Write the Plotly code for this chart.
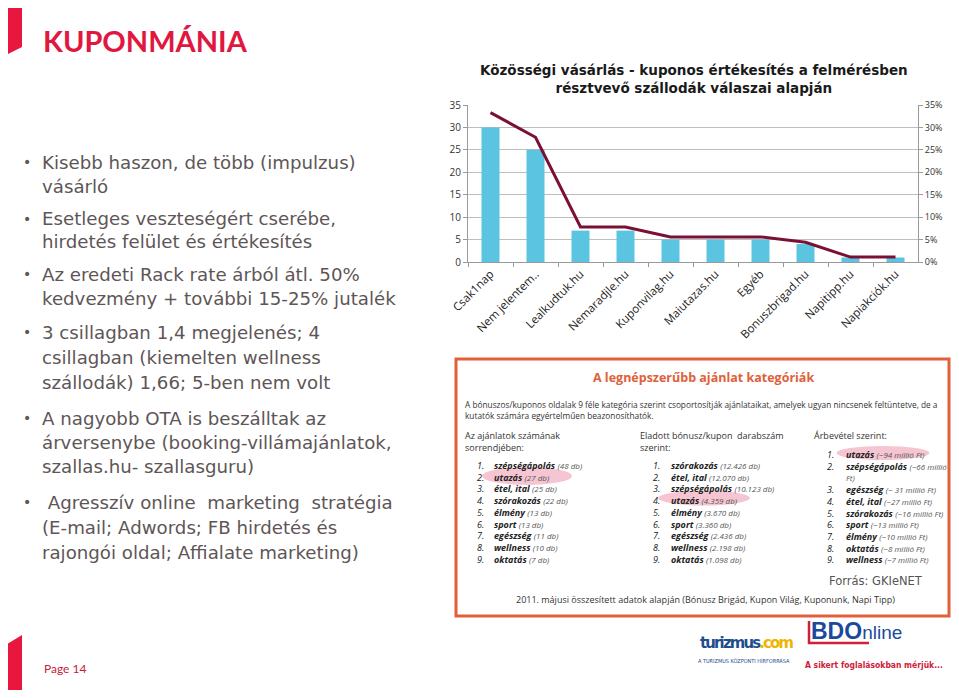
import plotly.graph_objects as go

# page has an 8px body margin on every side; keep the figure inside the 959x698 window
OFF = 8
W, H = 959 - 2 * OFF, 698 - 2 * OFF

categories = ["Csak1nap", "Nem jelentem..", "Lealkudtuk.hu", "Nemaradjle.hu", "Kuponvilag.hu",
              "Maiutazas.hu", "Egyéb", "Bonuszbrigad.hu", "Napitipp.hu", "Napiakciók.hu"]
counts = [30, 25, 7, 7, 5, 5, 5, 4, 1, 1]
shares = [0.333, 0.278, 0.078, 0.078, 0.056, 0.056, 0.056, 0.044, 0.011, 0.011]
left_ticks = [0, 5, 10, 15, 20, 25, 30, 35]
right_ticks = [0, 0.05, 0.10, 0.15, 0.20, 0.25, 0.30, 0.35]

bullets = [
    ["Kisebb haszon, de több (impulzus)", "vásárló"],
    ["Esetleges veszteségért cserébe,", "hirdetés felület és értékesítés"],
    ["Az eredeti Rack rate árból átl. 50%", "kedvezmény + további 15-25% jutalék"],
    ["3 csillagban 1,4 megjelenés; 4", "csillagban (kiemelten wellness", "szállodák) 1,66; 5-ben nem volt"],
    ["A nagyobb OTA is beszálltak az", "árversenybe (booking-villámajánlatok,", "szallas.hu- szallasguru)"],
    [" Agresszív online  marketing  stratégia", "(E-mail; Adwords; FB hirdetés és", "rajongói oldal; Affialate marketing)"],
]
bullet_line_y = [[162, 186], [219, 242], [274, 298], [332, 357, 383], [418, 442, 467], [502, 527, 552]]

col1 = [("szépségápolás", "(48 db)"), ("utazás", "(27 db)"), ("étel, ital", "(25 db)"),
        ("szórakozás", "(22 db)"), ("élmény", "(13 db)"), ("sport", "(13 db)"),
        ("egészség", "(11 db)"), ("wellness", "(10 db)"), ("oktatás", "(7 db)")]
col2 = [("szórakozás", "(12.426 db)"), ("étel, ital", "(12.070 db)"), ("szépségápolás", "(10.123 db)"),
        ("utazás", "(4.359 db)"), ("élmény", "(3.670 db)"), ("sport", "(3.360 db)"),
        ("egészség", "(2.436 db)"), ("wellness", "(2.198 db)"), ("oktatás", "(1.098 db)")]
col3 = [("utazás", "(~94 millió Ft)"), ("szépségápolás", "(~66 millió"), ("egészség", "(~ 31 millió Ft)"),
        ("étel, ital", "(~27 millió Ft)"), ("szórakozás", "(~16 millió Ft)"), ("sport", "(~13 millió Ft)"),
        ("élmény", "(~10 millió Ft)"), ("oktatás", "(~8 millió Ft)"), ("wellness", "(~7 millió Ft)")]


def px(x):
    return (x - OFF) / W


def py(y):
    return 1 - (y - OFF) / H


fig = go.Figure()
fig.add_trace(go.Bar(x=categories, y=counts, marker=dict(color="#5BC4E0", line=dict(width=0)),
                     width=0.4, yaxis="y", showlegend=False))
fig.add_trace(go.Scatter(x=categories, y=shares, mode="lines", line=dict(color="#7A1035", width=3),
                         yaxis="y2", showlegend=False))

ann = []
shapes = []


def text(x, y, t, font, xanchor="left", yanchor="middle", align="left"):
    ann.append(dict(x=px(x), y=py(y), xref="paper", yref="paper", showarrow=False, text=t, font=font,
                    xanchor=xanchor, yanchor=yanchor, align=align, borderpad=0))


# Chart title
text(694, 79, "<b>Közösségi vásárlás - kuponos értékesítés a felmérésben<br>résztvevő szállodák válaszai alapján</b>",
     dict(family="DejaVu Sans", size=13.5, color="#1a1a1a"), xanchor="center", align="center")

# Slide title and decorations
text(42, 41, "<b>KUPONMÁNIA</b>", dict(family="Lato", size=29, color="#E0173F"))
shapes.append(dict(type="path", xref="paper", yref="paper",
                   path=f"M {px(4)} {py(0)} L {px(22)} {py(0)} L {px(22)} {py(47)} L {px(4)} {py(56)} Z",
                   fillcolor="#E8173F", line=dict(width=0)))
shapes.append(dict(type="path", xref="paper", yref="paper",
                   path=f"M {px(4)} {py(646)} L {px(22)} {py(635)} L {px(22)} {py(698)} L {px(4)} {py(698)} Z",
                   fillcolor="#E8173F", line=dict(width=0)))
text(43, 668, "Page 14", dict(family="Lato", size=12, color="#C8203F"))

# Bullets
tcol = "#5E5656"
for lines, ys in zip(bullets, bullet_line_y):
    text(27, ys[0], "•", dict(family="DejaVu Sans", size=14, color=tcol), xanchor="center")
    for t, yy in zip(lines, ys):
        text(41, yy, t, dict(family="DejaVu Sans", size=18.2, color=tcol))

# Box
shapes.append(dict(type="rect", xref="paper", yref="paper", x0=px(456), x1=px(949), y0=py(359), y1=py(616),
                   line=dict(color="#E0603A", width=3), fillcolor="rgba(0,0,0,0)"))
for cx, cy, w, h in [(527, 476, 90, 18), (704, 498, 92, 15), (883, 453, 93, 14)]:
    shapes.append(dict(type="circle", xref="paper", yref="paper", x0=px(cx - w / 2), x1=px(cx + w / 2),
                       y0=py(cy - h / 2), y1=py(cy + h / 2), fillcolor="#F5C5D2", line=dict(width=0),
                       layer="below"))

text(703, 377, "<b>A legnépszerűbb ajánlat kategóriák</b>",
     dict(family="Open Sans", size=12.5, color="#E0603A"), xanchor="center")
small = dict(family="Open Sans", size=9, color="#333333")
text(464, 410, "A bónuszos/kuponos oldalak 9 féle kategória szerint csoportosítják ajánlataikat, amelyek ugyan nincsenek feltüntetve, de a"
     "<br>kutatók számára egyértelműen beazonosíthatók.", dict(family="Open Sans", size=8.3, color="#333333"))
text(464, 441, "Az ajánlatok számának<br>sorrendjében:", small)
text(639, 441, "Eladott bónusz/kupon  darabszám<br>szerint:", small)
text(813, 435, "Árbevétel szerint:", small)


def item_lines(items, extra_after=None):
    nums, names = [], []
    for i, (name, val) in enumerate(items):
        nums.append(f"<i>{i + 1}.</i>")
        names.append(f"<b><i>{name}</i></b> <i><span style='font-size:8px;color:#555'>{val}</span></i>")
        if extra_after is not None and i == extra_after:
            nums.append(" ")
            names.append("<i><span style='font-size:8px;color:#555'>Ft)</span></i>")
    return "<br>".join(nums), "<br>".join(names)


itemfont = dict(family="Open Sans", size=9, color="#222")
n1, t1 = item_lines(col1)
n2, t2 = item_lines(col2)
n3, t3 = item_lines(col3, extra_after=1)
text(476, 458, n1, itemfont, yanchor="top")
text(493, 458, t1, itemfont, yanchor="top")
text(652, 458, n2, itemfont, yanchor="top")
text(670, 458, t2, itemfont, yanchor="top")
text(826, 447, n3, itemfont, yanchor="top")
text(845, 447, t3, itemfont, yanchor="top")

text(924, 581, "Forrás: GKIeNET", dict(family="DejaVu Sans", size=11.5, color="#555"), xanchor="right")
text(705, 599, "2011. májusi összesített adatok alapján (Bónusz Brigád, Kupon Világ, Kuponunk, Napi Tipp)",
     small, xanchor="center")

# Logos (as text)
text(794, 642, "<b><span style='color:#1E4E8C;letter-spacing:-1.8px'>turizmus</span>"
               "<span style='color:#F0B400;letter-spacing:-1.8px'>.com</span></b>",
     dict(family="DejaVu Sans Condensed", size=16.5), xanchor="right")
text(791, 660, "A TURIZMUS KÖZPONTI HÍRFORRÁSA",
     dict(family="DejaVu Sans Condensed", size=5.5, color="#1E4E8C"), xanchor="right")
text(810, 631, "<b>BDO</b><span style='font-size:19px'>nline</span>",
     dict(family="Liberation Sans", size=23, color="#1A4A9C"))
shapes.append(dict(type="path", xref="paper", yref="paper",
                   path=f"M {px(809)} {py(621)} L {px(809)} {py(643)} L {px(869)} {py(643)}",
                   line=dict(color="#D0213A", width=2.5)))
text(804, 665, "<b>A sikert foglalásokban mérjük...</b>",
     dict(family="DejaVu Sans Condensed", size=8.5, color="#D0213A"))

fig.update_layout(
    width=W, height=H, margin=dict(l=0, r=0, t=0, b=0, autoexpand=False),
    paper_bgcolor="white", plot_bgcolor="white",
    xaxis=dict(domain=[px(468), px(918)], type="category", tickangle=-45, automargin=False,
               tickfont=dict(family="Open Sans", size=11.5, color="#222"),
               showline=True, linecolor="#9a9a9a", ticks="outside", tickson="boundaries",
               ticklen=4, tickcolor="#9a9a9a", showgrid=False, anchor="y"),
    yaxis=dict(domain=[py(262), py(105)], range=[0, 35], tickvals=left_ticks, automargin=False,
               showgrid=True, gridcolor="#BDBDBD", gridwidth=1,
               showline=True, linecolor="#9a9a9a", ticks="outside", ticklen=4, tickcolor="#9a9a9a",
               tickfont=dict(family="Open Sans", size=10, color="#333"), zeroline=False),
    yaxis2=dict(overlaying="y", side="right", range=[0, 0.35], tickvals=right_ticks, tickformat=".0%",
                automargin=False, showgrid=False, showline=True, linecolor="#9a9a9a", ticks="outside",
                ticklen=4, tickcolor="#9a9a9a", tickfont=dict(family="Open Sans", size=9, color="#333"),
                zeroline=False),
    annotations=ann, shapes=shapes,
)

fig.write_html("out.html")
